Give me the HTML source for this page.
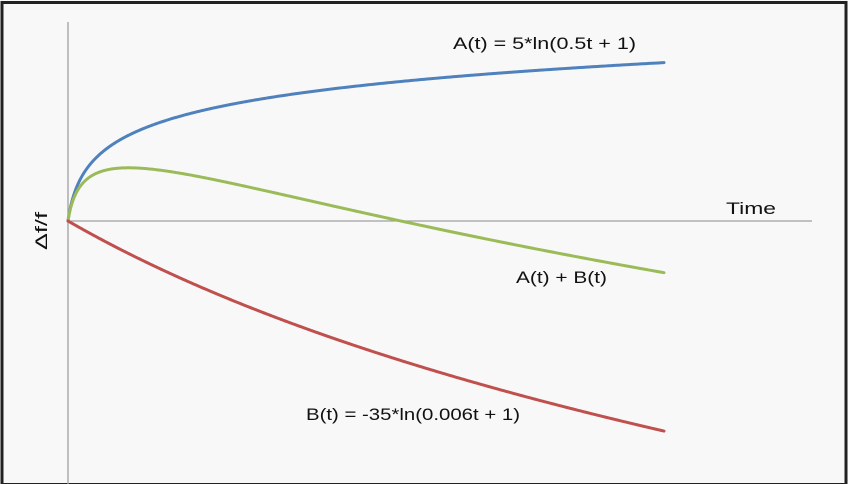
<!DOCTYPE html>
<html><head><style>
html,body{margin:0;padding:0;background:#f8f8f8}
svg{display:block}
text{font-family:"Liberation Sans",sans-serif;font-size:17px;fill:#111}
</style></head><body>
<svg id="s" width="848" height="484" viewBox="0 0 848 484">
<rect x="0" y="0" width="848" height="484" fill="#f8f8f8"/>
<rect x="2" y="2.5" width="844" height="482" fill="none" stroke="#222" stroke-width="3"/>
<line x1="68" y1="22" x2="68" y2="484" stroke="#a0a0a0" stroke-width="1.3"/>
<line x1="68" y1="221" x2="812" y2="221" stroke="#a0a0a0" stroke-width="1.3"/>
<path id="b" fill="none" stroke="#4f81bd" stroke-width="3" stroke-linecap="round"/>
<path id="g" fill="none" stroke="#9bbb59" stroke-width="3" stroke-linecap="round"/>
<path id="r" fill="none" stroke="#c0504d" stroke-width="3" stroke-linecap="round"/>
<text x="453" y="49" textLength="183" lengthAdjust="spacingAndGlyphs">A(t) = 5*ln(0.5t + 1)</text>
<text x="726" y="214" font-size="19" textLength="50" lengthAdjust="spacingAndGlyphs">Time</text>
<text x="516" y="283" textLength="91" lengthAdjust="spacingAndGlyphs">A(t) + B(t)</text>
<text x="306" y="420" textLength="214" lengthAdjust="spacingAndGlyphs">B(t) = -35*ln(0.006t + 1)</text>
<text transform="translate(47,231) rotate(-90)" text-anchor="middle" font-size="19" textLength="38" lengthAdjust="spacingAndGlyphs">Δf/f</text>
</svg>
<script>
var T=250,S=6.55,x0=68,y0=221,W=596,pb=[],pg=[],pr=[];
for(var i=0;i<=400;i++){var t=T*Math.pow(i/400,2);var x=x0+t/T*W;
var a=5*Math.log(0.5*t+1),b=-35*Math.log(0.006*t+1);
pb.push(x.toFixed(2)+","+(y0-a*S).toFixed(2));
pg.push(x.toFixed(2)+","+(y0-(a+b)*S).toFixed(2));
pr.push(x.toFixed(2)+","+(y0-b*S).toFixed(2));}
document.getElementById("b").setAttribute("d","M"+pb.join("L"));
document.getElementById("g").setAttribute("d","M"+pg.join("L"));
document.getElementById("r").setAttribute("d","M"+pr.join("L"));
</script>
</body></html>
